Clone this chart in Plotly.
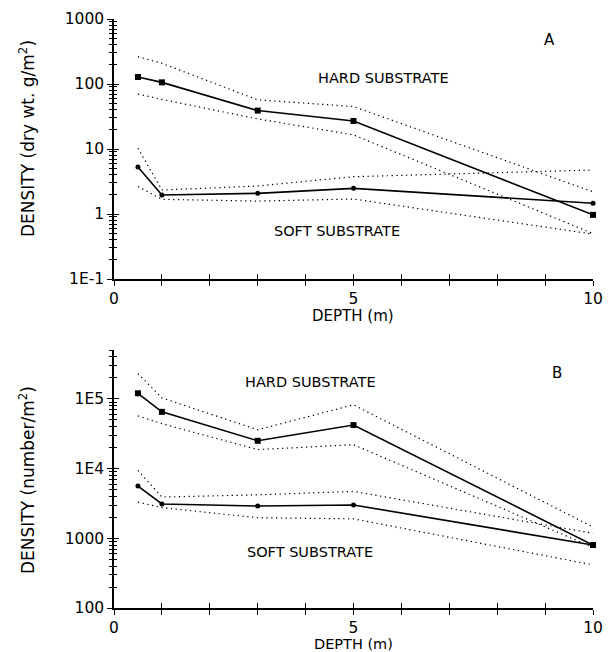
import plotly.graph_objects as go

# ---------------- data ----------------
depth = [0.5, 1, 3, 5, 10]

# Panel A: biomass (dry wt. g/m2)
hard_mean_A = [128, 106, 39, 27, 0.97]
hard_upper_A = [263, 208, 57, 45, 2.2]
hard_lower_A = [70, 58, 29, 16.5, 0.5]
soft_mean_A = [5.3, 1.96, 2.08, 2.48, 1.46]
soft_upper_A = [10.3, 2.34, 2.7, 3.75, 4.75]
soft_lower_A = [2.65, 1.68, 1.58, 1.7, 0.49]

# Panel B: abundance (number/m2)
hard_mean_B = [1.2e5, 6.5e4, 2.5e4, 4.2e4, 800]
hard_upper_B = [2.3e5, 1.03e5, 3.6e4, 8.2e4, 1450]
hard_lower_B = [5.7e4, 4.4e4, 1.87e4, 2.2e4, 740]
soft_mean_B = [5.6e3, 3.1e3, 2.9e3, 3.0e3, 800]
soft_upper_B = [9.4e3, 3.9e3, 4.2e3, 4.7e3, 1180]
soft_lower_B = [3.3e3, 2.75e3, 1.97e3, 1.9e3, 415]

x_tickvals = [0, 5, 10]
x_ticktext = ["0", "5", "10"]
x_minor = [1, 2, 3, 4, 6, 7, 8, 9]

yA_tickvals = [0.1, 1, 10, 100, 1000]
yA_ticktext = ["1E-1", "1", "10", "100", "1000"]
yB_tickvals = [100, 1000, 1e4, 1e5]
yB_ticktext = ["100", "1000", "1E4", "1E5"]

minorA = [k * 10 ** e for e in range(-1, 3) for k in range(2, 10)]
minorB = [k * 10 ** e for e in range(2, 6) for k in range(2, 10) if k * 10 ** e <= 5e5]

FONT = "DejaVu Sans"
W, H = 614, 652

fig = go.Figure()

dot = "1.3px,3.5px"


def add_panel(xa, ya, hm, hu, hl, sm, su, sl):
    for arr in (hu, hl, su, sl):
        fig.add_trace(go.Scatter(x=depth, y=arr, mode="lines", xaxis=xa, yaxis=ya,
                                 line=dict(color="black", width=1.2, dash=dot),
                                 cliponaxis=False, showlegend=False, hoverinfo="skip"))
    fig.add_trace(go.Scatter(x=depth, y=hm, mode="lines+markers", xaxis=xa, yaxis=ya,
                             line=dict(color="black", width=1.6),
                             marker=dict(symbol="square", size=6, color="black"),
                             cliponaxis=False, showlegend=False))
    fig.add_trace(go.Scatter(x=depth, y=sm, mode="lines+markers", xaxis=xa, yaxis=ya,
                             line=dict(color="black", width=1.6),
                             marker=dict(symbol="circle", size=5, color="black"),
                             cliponaxis=False, showlegend=False))


add_panel("x", "y", hard_mean_A, hard_upper_A, hard_lower_A, soft_mean_A, soft_upper_A, soft_lower_A)
add_panel("x2", "y2", hard_mean_B, hard_upper_B, hard_lower_B, soft_mean_B, soft_upper_B, soft_lower_B)

# invisible traces for the overlay (inside-tick) axes
fig.add_trace(go.Scatter(x=depth, y=hard_mean_A, xaxis="x3", yaxis="y3", mode="markers",
                         marker=dict(opacity=0), showlegend=False, hoverinfo="skip"))
fig.add_trace(go.Scatter(x=depth, y=hard_mean_B, xaxis="x4", yaxis="y4", mode="markers",
                         marker=dict(opacity=0), showlegend=False, hoverinfo="skip"))

xdom = [114 / W, 593 / W]
ydomA = [1 - 279 / H, 1 - 19 / H]
ydomB = [1 - 608 / H, 1 - 350 / H]

tickfont = dict(family=FONT, size=15.5, color="black")


def xaxis_main(anchor, dom):
    return dict(domain=dom, anchor=anchor, range=[0, 10], showgrid=False, zeroline=False,
                showline=True, linecolor="black", linewidth=1.5,
                tickmode="array", tickvals=x_tickvals, ticktext=x_ticktext,
                ticks="outside", ticklen=5, tickwidth=1.2, tickcolor="black",
                minor=dict(tickmode="array", tickvals=x_minor, ticks="outside", ticklen=5,
                           tickwidth=1.2, tickcolor="black", showgrid=False),
                tickfont=tickfont, automargin=False)


def xaxis_over(over, anchor):
    return dict(overlaying=over, anchor=anchor, range=[0, 10], showgrid=False, zeroline=False,
                showline=False, tickmode="array", tickvals=x_tickvals,
                ticks="inside", ticklen=5, tickwidth=1.2, tickcolor="black",
                minor=dict(tickmode="array", tickvals=x_minor, ticks="inside", ticklen=5,
                           tickwidth=1.2, tickcolor="black", showgrid=False),
                showticklabels=False, automargin=False)


def yaxis_main(anchor, dom, rng, tv, tt, minor):
    return dict(domain=dom, anchor=anchor, type="log", range=rng, showgrid=False, zeroline=False,
                showline=True, linecolor="black", linewidth=1.5,
                tickmode="array", tickvals=tv, ticktext=tt,
                ticks="outside", ticklen=5, tickwidth=1.2, tickcolor="black",
                minor=dict(tickmode="array", tickvals=minor, ticks="outside", ticklen=3,
                           tickwidth=1, tickcolor="black", showgrid=False),
                tickfont=tickfont, automargin=False)


def yaxis_over(over, anchor, rng, tv, minor):
    return dict(overlaying=over, anchor=anchor, type="log", range=rng, showgrid=False,
                zeroline=False, showline=False, tickmode="array", tickvals=tv,
                ticks="inside", ticklen=5, tickwidth=1.2, tickcolor="black",
                minor=dict(tickmode="array", tickvals=minor, ticks="inside", ticklen=3,
                           tickwidth=1, tickcolor="black", showgrid=False),
                showticklabels=False, automargin=False)


fig.update_layout(
    width=W, height=H,
    margin=dict(l=0, r=0, t=0, b=0),
    paper_bgcolor="white", plot_bgcolor="white",
    showlegend=False,
    font=dict(family=FONT, color="black"),
    xaxis=xaxis_main("y", xdom),
    yaxis=yaxis_main("x", ydomA, [-1, 3], yA_tickvals, yA_ticktext, minorA),
    xaxis2=xaxis_main("y2", xdom),
    yaxis2=yaxis_main("x2", ydomB, [2, 5.7], yB_tickvals, yB_ticktext, minorB),
    xaxis3=xaxis_over("x", "y3"),
    yaxis3=yaxis_over("y", "x3", [-1, 3], yA_tickvals, minorA),
    xaxis4=xaxis_over("x2", "y4"),
    yaxis4=yaxis_over("y2", "x4", [2, 5.7], yB_tickvals, minorB),
)


def ann(text, px, py, size=15, angle=0):
    fig.add_annotation(text=text, x=px / W, y=1 - py / H, xref="paper", yref="paper",
                       showarrow=False, textangle=angle,
                       font=dict(family=FONT, size=size, color="black"),
                       xanchor="center", yanchor="middle")


ann("A", 549, 40, 15)
ann("HARD SUBSTRATE", 383, 78, 14.5)
ann("SOFT SUBSTRATE", 337, 231, 14.5)
ann("B", 557, 373, 15)
ann("HARD SUBSTRATE", 310, 382, 14.5)
ann("SOFT SUBSTRATE", 310, 552, 14.5)
ann("DEPTH (m)", 353, 316, 15)
ann("DEPTH (m)", 353, 643.5, 14.5)
ann("DENSITY (dry wt. g/m<sup>2</sup>)", 27, 139, 17, -90)
ann("DENSITY (number/m<sup>2</sup>)", 27, 480, 17, -90)

fig.write_html("out.html", config={"displayModeBar": False},
               post_script="document.body.style.margin='0';")
